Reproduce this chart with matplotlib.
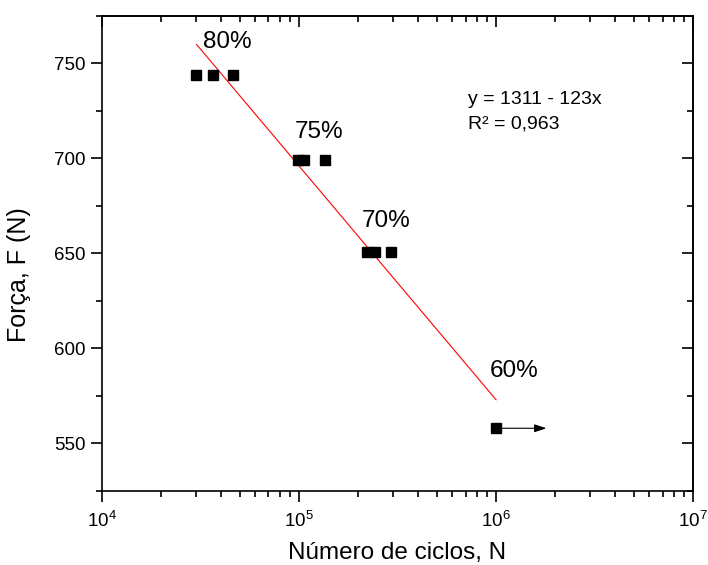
import numpy as np
import matplotlib.pyplot as plt
from matplotlib.ticker import LogLocator, MultipleLocator, NullFormatter

plt.rcParams['font.family'] = ['Liberation Sans', 'DejaVu Sans']
plt.rcParams['mathtext.fontset'] = 'custom'
plt.rcParams['mathtext.rm'] = 'Liberation Sans'
plt.rcParams['mathtext.it'] = 'Liberation Sans:italic'
plt.rcParams['mathtext.default'] = 'regular'

# ensaios de fadiga: número de ciclos até a ruptura e força aplicada
ciclos = [3.0e4, 3.65e4, 4.6e4,
          9.9e4, 1.06e5, 1.36e5,
          2.22e5, 2.44e5, 2.94e5,
          1.0e6]
forca = [744, 744, 744,
         699, 699, 699,
         651, 651, 651,
         558]

niveis = ["80%", "75%", "70%", "60%"]
nivel_x = [3.25e4, 9.5e4, 2.08e5, 9.3e5]
nivel_y = [761, 714, 667, 588]

# reta ajustada y = a + b*log10(N)
a, b = 1311, -123
ajuste_logN = [4.48, 6.0]

fig = plt.figure(figsize=(7.08, 5.65), dpi=100)
ax = fig.add_axes([0.144, 0.131, 0.835, 0.841])

ax.plot(ciclos, forca, 's', color='black', markersize=7, zorder=3)

logN = np.array(ajuste_logN)
ax.plot(10 ** logN, a + b * logN, color='red', linewidth=0.8, zorder=2)

# corpo de prova que não rompeu (run-out)
ax.annotate("", xy=(1.8e6, forca[-1]), xytext=(1.05e6, forca[-1]),
            arrowprops=dict(arrowstyle='-|>,head_length=0.6,head_width=0.2',
                            color='black', lw=0.8, mutation_scale=12,
                            shrinkA=0, shrinkB=0))

for txt, x, y in zip(niveis, nivel_x, nivel_y):
    ax.text(x, y, txt, fontsize=17.5, ha='left', va='center')

ax.text(0.62, 0.823, "y = 1311 - 123x", transform=ax.transAxes,
        fontsize=14, va='center')
ax.text(0.62, 0.773, "R² = 0,963", transform=ax.transAxes,
        fontsize=14, va='center')

ax.set_xscale('log')
ax.set_xlim(1e4, 1e7)
ax.set_ylim(525, 775)
ax.xaxis.set_major_locator(LogLocator(base=10, numticks=10))
ax.xaxis.set_minor_locator(LogLocator(base=10, subs=np.arange(2, 10), numticks=10))
ax.xaxis.set_minor_formatter(NullFormatter())
ax.yaxis.set_major_locator(MultipleLocator(50))
ax.yaxis.set_minor_locator(MultipleLocator(25))

ax.tick_params(which='both', direction='out', top=False, right=False,
               labelsize=13.5, width=1.2)
ax.tick_params(which='major', length=8)
ax.tick_params(which='minor', length=4)
ax.tick_params(axis='x', which='major', pad=6)

# eixos espelhados com marcas para dentro
top = ax.secondary_xaxis('top')
top.set_xscale('log')
top.xaxis.set_major_locator(LogLocator(base=10, numticks=10))
top.xaxis.set_minor_locator(LogLocator(base=10, subs=np.arange(2, 10), numticks=10))
top.tick_params(which='both', direction='in', labeltop=False, width=1.2)
top.tick_params(which='major', length=8)
top.tick_params(which='minor', length=4)
top.xaxis.set_minor_formatter(NullFormatter())
top.xaxis.set_major_formatter(NullFormatter())

right = ax.secondary_yaxis('right')
right.yaxis.set_major_locator(MultipleLocator(50))
right.yaxis.set_minor_locator(MultipleLocator(25))
right.tick_params(which='both', direction='in', labelright=False, width=1.2)
right.tick_params(which='major', length=8)
right.tick_params(which='minor', length=4)

for s in list(ax.spines.values()) + [top.spines['top'], right.spines['right']]:
    s.set_linewidth(1.2)

ax.set_xlabel("Número de ciclos, N", fontsize=17.5)
ax.set_ylabel("Força, F (N)", fontsize=18)
ax.xaxis.set_label_coords(0.5, -0.107)
ax.yaxis.set_label_coords(-0.12, 0.455)

fig.savefig("out.png", dpi=100)
